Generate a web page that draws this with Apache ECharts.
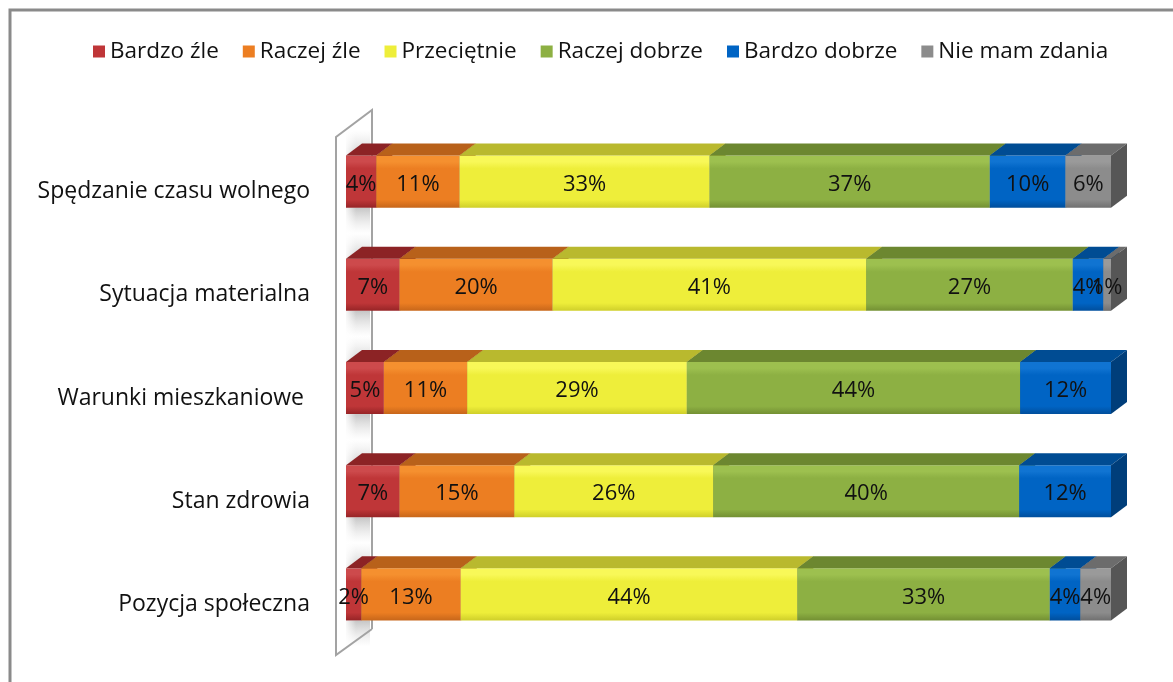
<!DOCTYPE html>
<html>
<head>
<meta charset="utf-8">
<script src="https://cdn.jsdelivr.net/npm/echarts@6/dist/echarts.min.js"></script>
<style>
html,body{margin:0;padding:0;background:#fff;}
#c{width:1173px;height:682px;}
</style>
</head>
<body>
<div id="c"></div>
<script>
// ---- data ----
const categories = ['Spędzanie czasu wolnego', 'Sytuacja materialna', 'Warunki mieszkaniowe ', 'Stan zdrowia', 'Pozycja społeczna'];
const seriesNames = ['Bardzo źle', 'Raczej źle', 'Przeciętnie', 'Raczej dobrze', 'Bardzo dobrze', 'Nie mam zdania'];
const bardzoZle    = [4, 7, 5, 7, 2];
const raczejZle    = [11, 20, 11, 15, 13];
const przecietnie  = [33, 41, 29, 26, 44];
const raczejDobrze = [37, 27, 44, 40, 33];
const bardzoDobrze = [10, 4, 12, 12, 4];
const nieMamZdania = [6, 1, 0, 0, 4];
const seriesValues = [bardzoZle, raczejZle, przecietnie, raczejDobrze, bardzoDobrze, nieMamZdania];

// ---- styles ----
const palette = [
  {front:'#BF3638', light:'#CD4A4C', dark:'#962426', top:'#8C2325', side:'#74191B'},
  {front:'#EC7E22', light:'#F5902F', dark:'#C7661A', top:'#B8611A', side:'#9A5014'},
  {front:'#EEEE3A', light:'#F8F858', dark:'#CFCF2A', top:'#B9B92E', side:'#9C9C22'},
  {front:'#8DB043', light:'#9DC04F', dark:'#739033', top:'#6C8730', side:'#587026'},
  {front:'#0064C4', light:'#1074D2', dark:'#004E9C', top:'#004C93', side:'#003E7A'},
  {front:'#8C8C8C', light:'#9A9A9A', dark:'#707070', top:'#6C6C6C', side:'#565656'}
];
const DX = 16, DY = 12;
const GRID = {left: 346, right: 62, top: 130, bottom: 36};
const FONT = 'Open Sans';

// build stacked (normalized to 100%) segments
const rowSums = categories.map((_, i) => seriesValues.reduce((a, s) => a + s[i], 0));
const cum = categories.map(() => 0);
const segData = seriesValues.map(vals => vals.map((v, i) => {
  const s = cum[i] / rowSums[i] * 100;
  cum[i] += v;
  const e = cum[i] / rowSums[i] * 100;
  return [i, s, e, v];
}));
const labelData = [];
segData.forEach(arr => arr.forEach(d => { if (d[3] > 0) labelData.push([d[0], (d[1] + d[2]) / 2, d[3]]); }));

function makeRender(ci) {
  const c = palette[ci];
  return function (params, api) {
    const cat = api.value(0), s = api.value(1), e = api.value(2), raw = api.value(3);
    if (!(raw > 0)) return null;
    const p0 = api.coord([s, cat]);
    const p1 = api.coord([e, cat]);
    const h = api.size([0, 1])[1] * 0.505;
    const x0 = p0[0], x1 = p1[0];
    const top = p0[1] - h / 2, bot = p0[1] + h / 2;
    return {
      type: 'group',
      children: [
        {type: 'rect', shape: {x: x0, y: top, width: x1 - x0, height: bot - top},
          style: {fill: new echarts.graphic.LinearGradient(0, 0, 0, 1, [
            {offset: 0, color: c.light}, {offset: 0.12, color: c.light},
            {offset: 0.25, color: c.front}, {offset: 0.85, color: c.front},
            {offset: 1, color: c.dark}])}},
        {type: 'polygon', shape: {points: [[x0, top], [x0 + DX, top - DY], [x1 + DX, top - DY], [x1, top]]},
          style: {fill: c.top}},
        {type: 'polygon', shape: {points: [[x1, top], [x1 + DX, top - DY], [x1 + DX, bot - DY], [x1, bot]]},
          style: {fill: c.side}}
      ]
    };
  };
}

const series = seriesNames.map((name, si) => ({
  type: 'custom',
  name: name,
  itemStyle: {color: palette[si].front},
  renderItem: makeRender(si),
  encode: {x: [1, 2], y: 0},
  data: segData[si],
  z: 2
}));

series.push({
  type: 'custom',
  name: 'labels',
  z: 10,
  silent: true,
  renderItem: function (params, api) {
    const p = api.coord([api.value(1), api.value(0)]);
    return {type: 'text', x: p[0], y: p[1] + 3,
      style: {text: api.value(2) + '%', fill: '#111', font: '22px "' + FONT + '"', align: 'center', verticalAlign: 'middle'}};
  },
  encode: {x: 1, y: 0},
  data: labelData
});

// wall + shadows
const wallX0 = GRID.left - 10, wallX1 = GRID.left + 26;
const chartH = 682;
const plotTop = GRID.top, plotBot = chartH - GRID.bottom;
const band = (plotBot - plotTop) / categories.length;
const graphics = [
  {type: 'rect', shape: {x: 10, y: 10, width: 1300, height: 800}, style: {fill: 'none', stroke: '#8a8a8a', lineWidth: 3}, z: 0}
];
categories.forEach((_, i) => {
  const yc = plotTop + band * (i + 0.5);
  const bTop = yc - band * 0.2525, bBot = yc + band * 0.2525;
  graphics.push({type: 'rect', shape: {x: GRID.left, y: bBot, width: 24, height: 26},
    style: {fill: new echarts.graphic.LinearGradient(0, 0, 0, 1, [
      {offset: 0, color: 'rgba(150,150,150,0.55)'}, {offset: 1, color: 'rgba(200,200,200,0)'}])}, z: 1});
  graphics.push({type: 'rect', shape: {x: GRID.left, y: bTop - 26, width: 24, height: 26},
    style: {fill: new echarts.graphic.LinearGradient(0, 0, 0, 1, [
      {offset: 0, color: 'rgba(200,200,200,0)'}, {offset: 1, color: 'rgba(150,150,150,0.45)'}])}, z: 1});
});
graphics.push({type: 'rect', shape: {x: GRID.left - 2, y: plotTop - 30, width: 12, height: plotBot - plotTop + 50},
  style: {fill: new echarts.graphic.LinearGradient(0, 0, 1, 0, [
    {offset: 0, color: 'rgba(255,255,255,1)'}, {offset: 1, color: 'rgba(255,255,255,0)'}])}, z: 1});
graphics.push({type: 'polyline', shape: {points: [[wallX1, plotBot - 17], [wallX0, plotBot + 9], [wallX0, plotTop + 7], [wallX1, plotTop - 20], [wallX1, plotBot - 17]]},
  style: {fill: 'none', stroke: '#a3a3a3', lineWidth: 2}, z: 1});

const chart = echarts.init(document.getElementById('c'), null, {renderer: 'canvas'});
chart.setOption({
  backgroundColor: '#fff',
  animation: false,
  legend: {
    data: seriesNames,
    top: 35,
    left: 88,
    icon: 'rect',
    itemWidth: 12,
    itemHeight: 12,
    itemGap: 24,
    textStyle: {fontFamily: FONT, fontSize: 22.5, color: '#111'}
  },
  grid: {left: GRID.left, right: GRID.right, top: GRID.top, bottom: GRID.bottom, containLabel: false},
  xAxis: {type: 'value', min: 0, max: 100, show: false},
  yAxis: {
    type: 'category',
    data: categories,
    inverse: true,
    axisLine: {show: false},
    axisTick: {show: false},
    axisLabel: {margin: 36, fontFamily: FONT, fontSize: 23, color: '#111', verticalAlign: 'top', lineHeight: 20}
  },
  graphic: graphics,
  series: series
});
</script>
</body>
</html>
